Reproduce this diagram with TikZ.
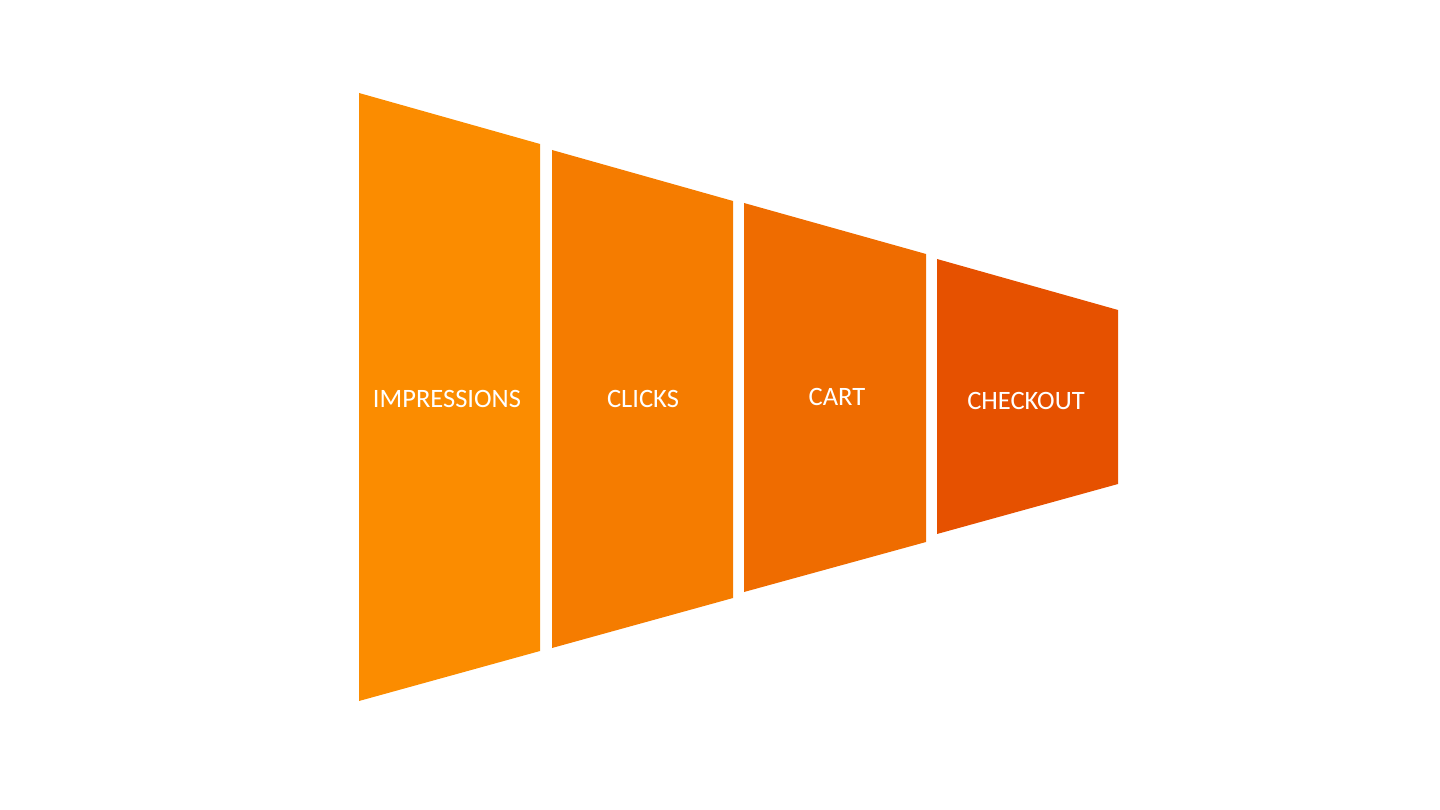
\documentclass[tikz,border=0pt]{standalone}
\usepackage{fontspec}
\setmainfont{Carlito}
\definecolor{impressionsfill}{HTML}{FB8C00}
\definecolor{clicksfill}{HTML}{F57C00}
\definecolor{cartfill}{HTML}{EF6C00}
\definecolor{checkoutfill}{HTML}{E65100}
\tikzset{stagetext/.style={text=white,font=\fontsize{15.1}{17}\selectfont,inner sep=0pt}}
\begin{document}
\begin{tikzpicture}[x=0.02cm,y=-0.02cm]
        \useasboundingbox (0,0) rectangle (1440,810);
        % funnel stages
        \fill[impressionsfill] (359,93) -- (540,144) -- (540,651) -- (359,701) -- cycle;
        \fill[clicksfill] (552,150) -- (733,201) -- (733,598) -- (552,648) -- cycle;
        \fill[cartfill] (744,203) -- (926,254) -- (926,542) -- (744,592) -- cycle;
        \fill[checkoutfill] (937,259) -- (1118,310) -- (1118,484) -- (937,534) -- cycle;
        % labels
        \node[stagetext] (impressions) at (447,399) {IMPRESSIONS};
        \node[stagetext] (clicks) at (643,399) {CLICKS};
        \node[stagetext] (cart) at (837,397) {CART};
        \node[stagetext] (checkout) at (1026,401) {CHECKOUT};
\end{tikzpicture}
\end{document}
